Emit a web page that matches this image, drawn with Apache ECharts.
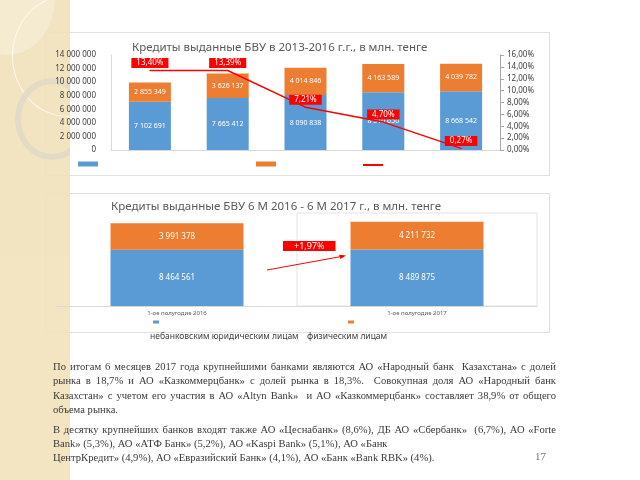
<!DOCTYPE html>
<html><head><meta charset="utf-8">
<script src="https://cdn.jsdelivr.net/npm/echarts@6/dist/echarts.min.js"></script>
<style>
html,body{margin:0;padding:0;background:#fff;width:640px;height:480px;overflow:hidden;}
#stripe{position:absolute;left:0;top:0;width:70px;height:480px;background:#F2E3BD;overflow:hidden;z-index:2;opacity:0.93}
.ring{position:absolute;border-radius:50%;}
.panel{position:absolute;left:45px;width:503px;background:#fff;border:1px solid #e0e0e0;z-index:1}
#chart{position:absolute;left:0;top:0;width:640px;height:480px;z-index:3}
#text{position:absolute;left:53px;top:360px;width:503px;font-family:"Liberation Serif","DejaVu Serif",serif;font-size:10.6px;line-height:14.3px;color:#3a3a3a;z-index:4}
#text div{white-space:nowrap}
#text div.j{text-align:justify;text-align-last:justify}
#text .gap{height:5.5px}
#pg{position:absolute;left:535px;top:450px;font-family:"Liberation Serif",serif;font-size:11px;color:#777;z-index:4}
</style></head>
<body>
<div class="panel" style="top:32px;height:142px"></div>
<div class="panel" style="top:193px;height:138px"></div>
<div id="stripe">
  <div class="ring" style="left:12px;top:-5px;width:110px;height:120px;border:1.5px solid rgba(255,255,255,0.75)"></div>
  <div class="ring" style="left:-40px;top:-60px;width:95px;height:115px;background:rgba(255,255,255,0.25)"></div>
  <div class="ring" style="left:15px;top:78px;width:62px;height:70px;border:6px solid rgba(225,215,195,0.9)"></div>
</div>
<div id="chart"></div>
<div id="text">
<div class="j">По итогам 6 месяцев 2017 года крупнейшими банками являются АО «Народный банк&nbsp; Казахстана» с долей</div>
<div class="j">рынка в 18,7% и АО «Казкоммерцбанк» с долей рынка в 18,3%.&nbsp; Совокупная доля АО «Народный банк</div>
<div class="j">Казахстан» с учетом его участия в АО «Altyn Bank»&nbsp; и АО «Казкоммерцбанк» составляет 38,9% от общего</div>
<div>объема рынка.</div>
<div class="gap"></div>
<div class="j">В десятку крупнейших банков входят также АО «Цеснабанк» (8,6%), ДБ АО «Сбербанк»&nbsp; (6,7%), АО «Forte</div>
<div>Bank» (5,3%), АО «АТФ Банк» (5,2%), АО «Kaspi Bank» (5,1%), АО «Банк</div>
<div>ЦентрКредит» (4,9%), АО «Евразийский Банк» (4,1%), АО «Банк «Bank RBK» (4%).</div>
</div>
<div id="pg">17</div>
<script>
// ---- data ----
const years = ['2012', '2013', '2014', '2015', '2016'];
const corpLoans = [7102691, 7665412, 8090838, 8510650, 8668542];
const retailLoans = [2855349, 3626137, 4014846, 4163589, 4039782];
const growthPct = [0.1340, 0.1339, 0.0721, 0.0470, 0.0027];

const halfYears = ['1-ое полугодие 2016', '1-ое полугодие 2017'];
const corpHalf = [8464561, 8489875];
const retailHalf = [3991378, 4211732];

const leftTicks = [0, 2000000, 4000000, 6000000, 8000000, 10000000, 12000000, 14000000];
const rightTicks = [0, 0.02, 0.04, 0.06, 0.08, 0.10, 0.12, 0.14, 0.16];

const nameCorp = 'небанковским юридическим лицам';
const nameRetail = 'физическим лицам';
const nameGrowth = 'прирост, %';

// ---- helpers ----
const sp = v => String(v).replace(/\B(?=(\d{3})+(?!\d))/g, ' ');
const pct = v => (v * 100).toFixed(2).replace('.', ',') + '%';
const totalH1 = corpHalf[0] + retailHalf[0];
const totalH2 = corpHalf[1] + retailHalf[1];
const growthHalf = '+' + ((totalH2 / totalH1 - 1) * 100).toFixed(2).replace('.', ',') + '%';

const BLUE = '#5B9BD5', ORANGE = '#ED7D31', RED = '#FF0000';
const FONT = '"Noto Sans", "DejaVu Sans", sans-serif';

const chart = echarts.init(document.getElementById('chart'), null, {renderer: 'canvas'});
const inBarLabel = size => ({show: true, position: 'inside', color: '#fff', fontSize: size, fontFamily: FONT, formatter: p => sp(p.value)});
const emptyLegend = (name, left, top, w, h) => ({data: [name], left, top, itemWidth: w, itemHeight: h, icon: 'rect',
  formatter: () => ' ', selectedMode: false, textStyle: {fontSize: 12}});

chart.setOption({
  backgroundColor: 'transparent',
  animation: false,
  textStyle: {fontFamily: FONT},
  title: [
    {text: 'Кредиты выданные БВУ в 2013-2016 г.г., в млн. тенге', left: 127, top: 37,
     textStyle: {fontSize: 11.5, fontWeight: 'normal', color: '#595959', fontFamily: FONT}},
    {text: 'Кредиты выданные БВУ 6 М 2016 - 6 М 2017 г., в млн. тенге', left: 106, top: 196,
     textStyle: {fontSize: 11.5, fontWeight: 'normal', color: '#595959', fontFamily: FONT}}
  ],
  legend: [
    emptyLegend(nameCorp, 73, 153, 20, 5),
    emptyLegend(nameRetail, 251, 153, 20, 5),
    emptyLegend(nameGrowth, 358, 154, 20, 2),
    emptyLegend(nameCorp, 148, 311, 6, 3),
    emptyLegend(nameRetail, 343, 311, 6, 3)
  ],
  grid: [
    {left: 111, right: 140, top: 55, height: 95},
    {left: 57, right: 103, top: 213, height: 93}
  ],
  xAxis: [
    {gridIndex: 0, type: 'category', data: years, axisLine: {lineStyle: {color: '#d9d9d9'}},
     axisTick: {show: false}, axisLabel: {show: false}},
    {gridIndex: 1, type: 'category', data: halfYears, axisLine: {lineStyle: {color: '#d9d9d9'}},
     axisTick: {show: false}, axisLabel: {fontSize: 6, color: '#595959', margin: 4}}
  ],
  yAxis: [
    {gridIndex: 0, type: 'value', min: leftTicks[0], max: leftTicks[leftTicks.length - 1], interval: leftTicks[1] - leftTicks[0],
     axisLine: {show: true, lineStyle: {color: '#d9d9d9'}}, axisTick: {show: false}, splitLine: {show: false},
     axisLabel: {fontSize: 8, color: '#404040', margin: 15, formatter: v => sp(v)}},
    {gridIndex: 0, type: 'value', position: 'right', min: rightTicks[0], max: rightTicks[rightTicks.length - 1], interval: rightTicks[1] - rightTicks[0],
     axisLine: {show: true, lineStyle: {color: '#a6a6a6'}}, axisTick: {show: true, length: 4, lineStyle: {color: '#a6a6a6'}},
     splitLine: {show: false}, axisLabel: {fontSize: 8, color: '#404040', margin: 7, formatter: v => pct(v)}},
    {gridIndex: 1, type: 'value', min: 0, max: 14000000, show: false}
  ],
  series: [
    {name: nameCorp, type: 'bar', stack: 'top', xAxisIndex: 0, yAxisIndex: 0, data: corpLoans, barWidth: 42,
     itemStyle: {color: BLUE}, label: inBarLabel(7)},
    {name: nameRetail, type: 'bar', stack: 'top', xAxisIndex: 0, yAxisIndex: 0, data: retailLoans, barWidth: 42,
     itemStyle: {color: ORANGE}, label: inBarLabel(7)},
    {name: nameGrowth, type: 'line', xAxisIndex: 0, yAxisIndex: 1, data: growthPct, symbol: 'circle', symbolSize: 1,
     itemStyle: {color: RED}, lineStyle: {color: RED, width: 1.5}, z: 5,
     label: {show: true, position: 'top', distance: 2, color: '#fff', backgroundColor: RED, fontSize: 8,
             padding: [1, 5], formatter: p => pct(p.value)}},
    {name: nameCorp, type: 'bar', stack: 'bot', xAxisIndex: 1, yAxisIndex: 2, data: corpHalf, barWidth: 133,
     itemStyle: {color: BLUE}, label: inBarLabel(8)},
    {name: nameRetail, type: 'bar', stack: 'bot', xAxisIndex: 1, yAxisIndex: 2, data: retailHalf, barWidth: 133,
     itemStyle: {color: ORANGE}, label: inBarLabel(8)}
  ],
  graphic: [
    {type: 'rect', shape: {x: 297, y: 213, width: 240, height: 93}, style: {fill: 'none', stroke: '#e3e3e3', lineWidth: 1}, z: -1, silent: true},
    {type: 'line', shape: {x1: 267, y1: 270, x2: 344, y2: 256}, style: {stroke: RED, lineWidth: 1}, silent: true},
    {type: 'polygon', shape: {points: [[346, 255.6], [339, 254.8], [340.5, 259]]}, style: {fill: RED}, silent: true},
    {type: 'text', left: 283, top: 241, style: {text: growthHalf, fill: '#fff', backgroundColor: RED, fontSize: 9,
      fontFamily: FONT, padding: [1, 11, 0, 11]}, silent: true},
    {type: 'text', left: 150, top: 332, style: {text: nameCorp, fill: '#404040', fontSize: 8.5, fontFamily: FONT}},
    {type: 'text', left: 307, top: 332, style: {text: nameRetail, fill: '#404040', fontSize: 8.5, fontFamily: FONT}}
  ]
});
</script>
</body></html>
